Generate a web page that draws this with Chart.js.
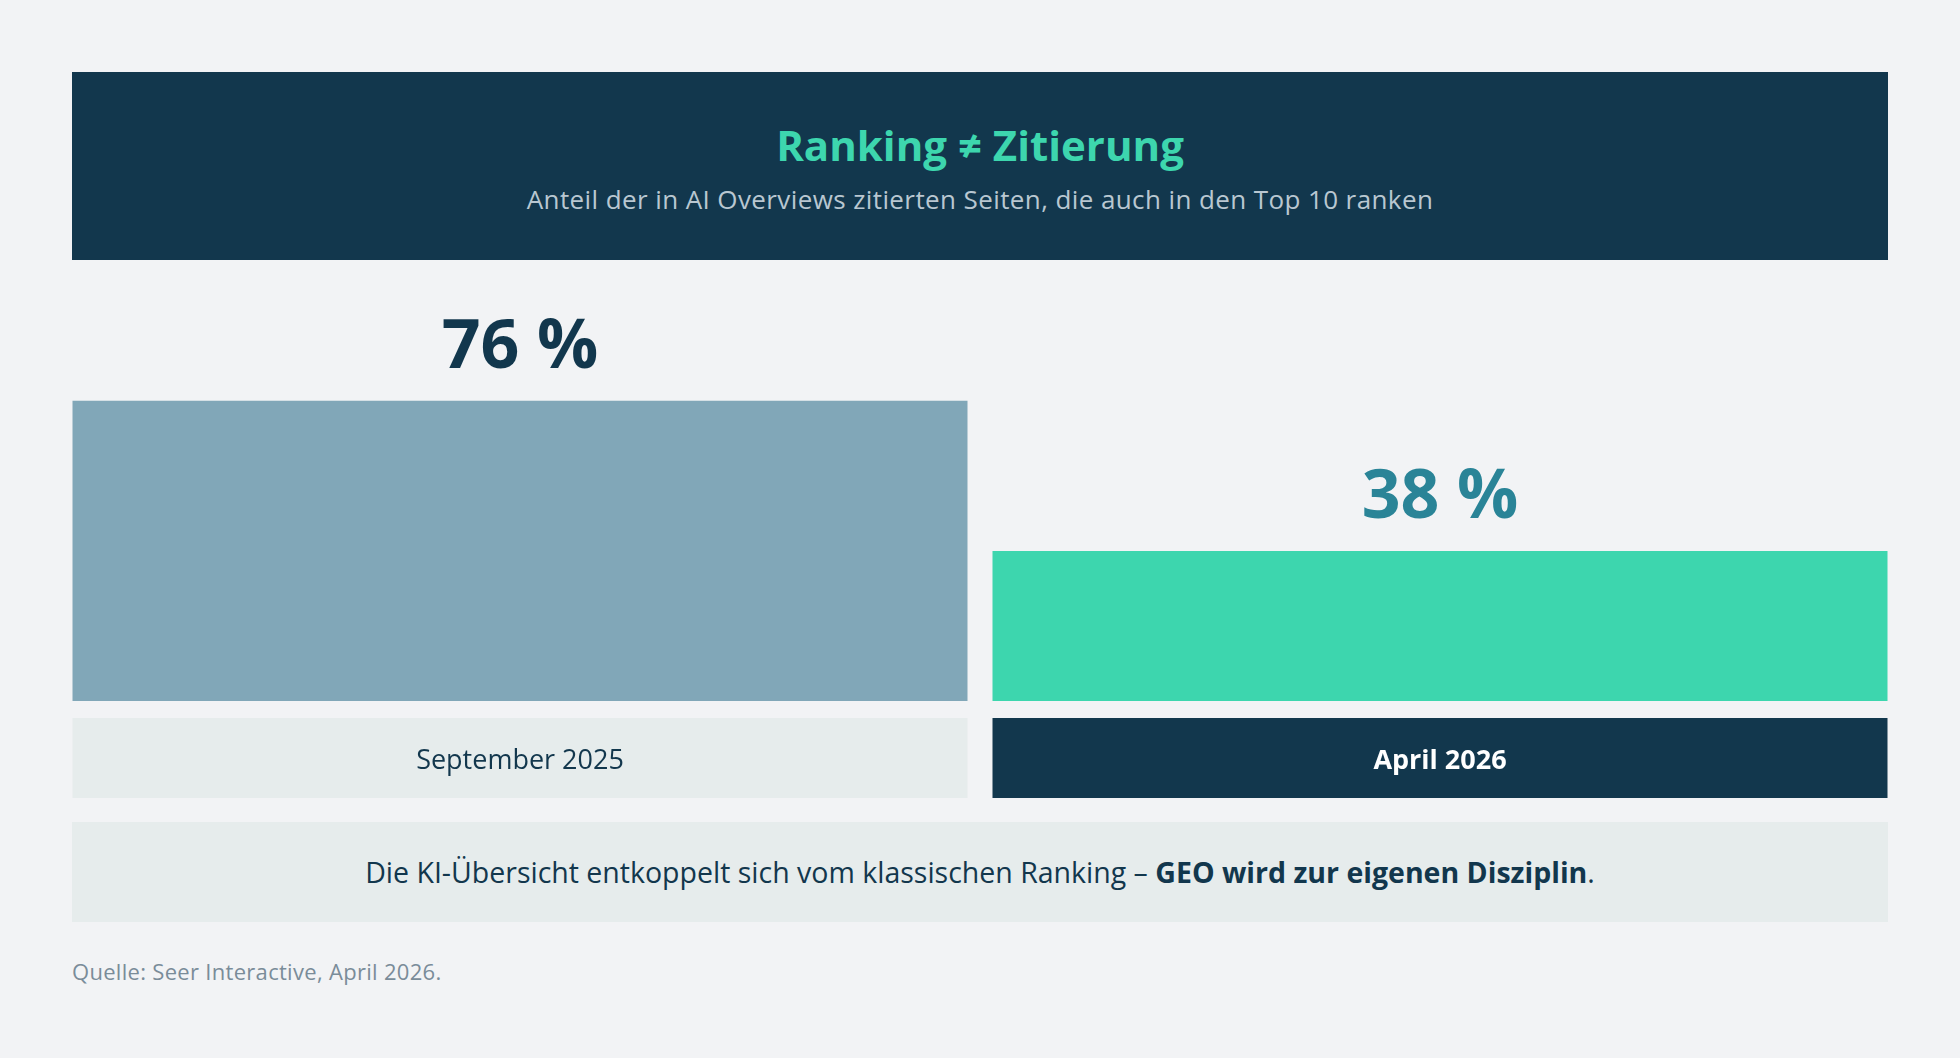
<!DOCTYPE html>
<html lang="de">
<head>
<meta charset="utf-8">
<script src="https://cdn.jsdelivr.net/npm/chart.js@4.4.1/dist/chart.umd.min.js"></script>
<style>
  html, body { margin: 0; padding: 0; background: #f2f3f5; }
  body { width: 1960px; height: 1058px; position: relative; overflow: hidden; font-family: "Open Sans", Lato, sans-serif; }
  .header { position: absolute; left: 72px; top: 72px; width: 1816px; height: 188px; background: #12374d; text-align: center; }
  .header h1 { position: absolute; left: 0; right: 0; top: 46px; margin: 0; font-size: 42px; line-height: 54px; font-weight: 700; color: #3dd6ae; }
  .header p { position: absolute; left: 0; right: 0; top: 111px; margin: 0; font-size: 26px; line-height: 32px; letter-spacing: 0.4px; color: #b9c7d1; }
  .chartbox { position: absolute; left: 0; top: 260px; width: 1960px; height: 560px; }
  .note { position: absolute; left: 72px; top: 822px; width: 1816px; height: 100px; background: #e6ecec; text-align: center; font-size: 28.5px; line-height: 100px; color: #12374d; }
  .note b { font-weight: 700; }
  .source { position: absolute; left: 72px; top: 957px; font-size: 22px; line-height: 28px; letter-spacing: 0.3px; color: #7a8c99; }
</style>
</head>
<body>
<div class="header">
  <h1>Ranking ≠ Zitierung</h1>
  <p>Anteil der in AI Overviews zitierten Seiten, die auch in den Top 10 ranken</p>
</div>
<div class="chartbox"><canvas id="chart"></canvas></div>
<div class="note">Die KI-Übersicht entkoppelt sich vom klassischen Ranking – <b>GEO wird zur eigenen Disziplin</b>.</div>
<div class="source">Quelle: Seer Interactive, April 2026.</div>

<script>
const categories = ["September 2025", "April 2026"];
const shares = [76, 38];

const barColors = ["#81a7b8", "#3dd6ae"];
const valueColors = ["#12374d", "#2a8497"];
const labelBoxColors = ["#e6ecec", "#12374d"];
const labelTextColors = ["#12374d", "#ffffff"];

// boxes behind the category labels + value labels above the bars
const decorations = {
  id: "decorations",
  beforeDraw(chart) {
    const { ctx, chartArea, scales: { x } } = chart;
    const meta = chart.getDatasetMeta(0);
    ctx.save();
    meta.data.forEach((bar, i) => {
      const w = bar.width;
      ctx.fillStyle = labelBoxColors[i];
      ctx.fillRect(x.getPixelForValue(i) - w / 2, chartArea.bottom + 17, w, 80);
    });
    ctx.restore();
  },
  afterDatasetsDraw(chart) {
    const { ctx } = chart;
    const meta = chart.getDatasetMeta(0);
    ctx.save();
    ctx.font = "700 68px 'Open Sans', sans-serif";
    ctx.textAlign = "center";
    ctx.textBaseline = "alphabetic";
    meta.data.forEach((bar, i) => {
      ctx.fillStyle = valueColors[i];
      ctx.fillText(shares[i] + " %", bar.x, bar.y - 33);
    });
    ctx.restore();
  }
};

new Chart(document.getElementById("chart"), {
  type: "bar",
  data: {
    labels: categories,
    datasets: [{
      data: shares,
      backgroundColor: barColors,
      borderWidth: 0,
      barPercentage: 895 / 920,
      categoryPercentage: 1
    }]
  },
  options: {
    responsive: true,
    maintainAspectRatio: false,
    animation: false,
    devicePixelRatio: 1,
    layout: { padding: { left: 60, right: 60, top: 46, bottom: 0 } },
    plugins: { legend: { display: false }, tooltip: { enabled: false } },
    scales: {
      y: { display: false, min: 0, max: 100 },
      x: {
        grid: { display: false, drawTicks: false },
        border: { display: false },
        afterFit: (scale) => { scale.height = 119; },
        ticks: {
          padding: 44,
          color: (c) => labelTextColors[c.index],
          font: (c) => ({ family: "'Open Sans', sans-serif", size: 27, weight: c.index === 1 ? "700" : "400" })
        }
      }
    }
  },
  plugins: [decorations]
});
</script>
</body>
</html>
